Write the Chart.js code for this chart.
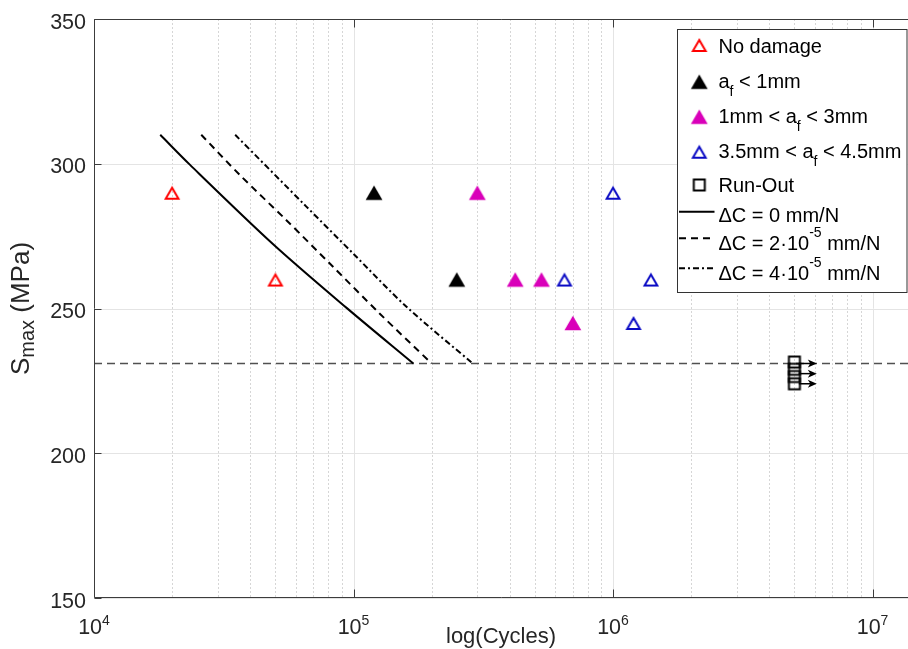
<!DOCTYPE html>
<html lang="en">
<head>
<meta charset="UTF-8">
<title>S-N fatigue data</title>
<script src="https://cdn.jsdelivr.net/npm/chart.js@4"></script>
<style>
  html, body { margin: 0; padding: 0; background: #fff; overflow: hidden; }
  .chart-box { position: relative; width: 908px; height: 649px; }
  .chart-box canvas { display: block; }
</style>
</head>
<body>
<div class="chart-box"><canvas id="snChart"></canvas></div>
<script>
// ---- values ----
const noDamageCycles = [2e4, 5e4];
const noDamageStress = [290, 260];
const smallCrackCycles = [1.2e5, 2.5e5];
const smallCrackStress = [290, 260];
const midCrackCycles = [3e5, 4.2e5, 5.3e5, 7e5];
const midCrackStress = [290, 260, 260, 245];
const largeCrackCycles = [1e6, 6.5e5, 1.4e6, 1.2e6];
const largeCrackStress = [290, 260, 260, 245];
const runOutCycles = [5e6, 5e6, 5e6, 5e6];
const runOutStress = [231.5, 229, 226.5, 224];
const runOutArrowStress = [231, 227.5, 224];
const runOutArrowCycles = [5.2e6, 6.1e6];   // arrow tail, arrow tip

const dc0Cycles = [1.8e4, 2.34e4, 4.89e4, 9.38e4, 1.7e5];
const dc0Stress = [310, 299.7, 272.3, 250.3, 231];
const dc2Cycles = [2.59e4, 3.64e4, 5.5e4, 8.32e4, 1.26e5, 2.0e5];
const dc2Stress = [310, 296.2, 280.6, 264.5, 248.3, 231];
const dc4Cycles = [3.5e4, 6.58e4, 9.94e4, 1.6e5, 2.88e5];
const dc4Stress = [310, 285.2, 269.1, 250.6, 231];

const enduranceStress = 231;

const xAxisMin = 1e4;
const xAxisMax = 1.37e7;
const yAxisMin = 150;
const yAxisMax = 350;
const xTickExponents = [4, 5, 6, 7];
const yTicks = [150, 200, 250, 300, 350];

const legendLabels = [
  [['No damage']],
  [['a'], ['f', 'sub'], [' < 1mm']],
  [['1mm < a'], ['f', 'sub'], [' < 3mm']],
  [['3.5mm < a'], ['f', 'sub'], [' < 4.5mm']],
  [['Run-Out']],
  [['\u0394C = 0 mm/N']],
  [['\u0394C = 2\u00b710'], ['-5', 'sup'], [' mm/N']],
  [['\u0394C = 4\u00b710'], ['-5', 'sup'], [' mm/N']]
];
const yTitle = [['S'], ['max', 'sub'], [' (MPa)']];
const xTitle = 'log(Cycles)';

// ---- helpers ----
const FONT = '"Liberation Sans", Arial, Helvetica, sans-serif';
const toPoints = (xs, ys) => xs.map((v, i) => ({ x: v, y: ys[i] }));

function triangleMarker(color, filled) {
  const c = document.createElement('canvas');
  c.width = 24; c.height = 24;
  const g = c.getContext('2d');
  const w = filled ? 16.8 : 12.8;
  const h = filled ? 14.5 : 11.2;
  const cy = filled ? 12 : 12.5;
  g.beginPath();
  g.moveTo(12, cy - h / 2);
  g.lineTo(12 + w / 2, cy + h / 2);
  g.lineTo(12 - w / 2, cy + h / 2);
  g.closePath();
  if (filled) {
    g.fillStyle = color;
    g.fill();
  } else {
    g.strokeStyle = color;
    g.lineWidth = 2;
    g.stroke();
  }
  return c;
}

function squareMarker(color) {
  const c = document.createElement('canvas');
  c.width = 16; c.height = 16;
  const g = c.getContext('2d');
  g.strokeStyle = color;
  g.lineWidth = 2;
  g.strokeRect(2.5, 2.5, 11, 11);
  return c;
}

// draws text made of normal / sub / sup pieces, returns its width
function drawRich(ctx, parts, x, y, o, measureOnly) {
  let cx = x;
  parts.forEach(([text, kind]) => {
    const fs = kind ? o.small : o.size;
    ctx.font = fs + 'px ' + FONT;
    const dy = kind === 'sub' ? o.subDy : kind === 'sup' ? o.supDy : 0;
    if (!measureOnly) ctx.fillText(text, cx, y + dy);
    cx += ctx.measureText(text).width;
  });
  return cx - x;
}

function line(ctx, x0, y0, x1, y1) {
  ctx.beginPath();
  ctx.moveTo(x0, y0);
  ctx.lineTo(x1, y1);
  ctx.stroke();
}

const RED = '#ff0000';
const MAGENTA = '#d900b9';
const BLUE = '#0a0ac4';
const AXIS = '#3c3c3c';

// ---- MATLAB style axes, grid, arrows and legend ----
const axesPlugin = {
  id: 'matlabAxes',
  beforeDatasetsDraw(chart) {
    const { ctx, chartArea: a, scales: { x, y } } = chart;
    ctx.save();
    ctx.lineWidth = 1;
    // minor x grid (dotted)
    ctx.strokeStyle = '#d6d6d6';
    ctx.setLineDash([2, 2]);
    xTickExponents.forEach(e => {
      for (let m = 2; m <= 9; m++) {
        const v = m * Math.pow(10, e);
        if (v >= x.max) break;
        const px = Math.round(x.getPixelForValue(v)) + 0.5;
        line(ctx, px, a.top, px, a.bottom);
      }
    });
    // major grid
    ctx.setLineDash([]);
    ctx.strokeStyle = '#e4e4e4';
    xTickExponents.forEach(e => {
      const px = Math.round(x.getPixelForValue(Math.pow(10, e))) + 0.5;
      if (px > a.left + 1) line(ctx, px, a.top, px, a.bottom);
    });
    yTicks.forEach(t => {
      const py = Math.round(y.getPixelForValue(t)) + 0.5;
      line(ctx, a.left, py, a.right, py);
    });
    ctx.restore();
  },
  afterDatasetsDraw(chart) {
    const { ctx, chartArea: a, scales: { x, y } } = chart;
    ctx.save();

    // run-out arrows
    ctx.strokeStyle = '#000';
    ctx.fillStyle = '#000';
    ctx.lineWidth = 1.5;
    runOutArrowStress.forEach(s => {
      const py = y.getPixelForValue(s);
      const x0 = x.getPixelForValue(runOutArrowCycles[0]);
      const x1 = x.getPixelForValue(runOutArrowCycles[1]);
      line(ctx, x0, py, x1 - 6, py);
      ctx.beginPath();
      ctx.moveTo(x1, py);
      ctx.lineTo(x1 - 9, py - 4);
      ctx.lineTo(x1 - 6.5, py);
      ctx.lineTo(x1 - 9, py + 4);
      ctx.closePath();
      ctx.fill();
    });

    // axis frame (right side is cut off in the figure)
    const L = Math.round(a.left) + 0.5;
    const T = Math.round(a.top) + 0.5;
    const B = Math.round(a.bottom) - 0.5;
    ctx.strokeStyle = AXIS;
    ctx.lineWidth = 1;
    line(ctx, L, T, a.right, T);
    line(ctx, L, B, a.right, B);
    line(ctx, L, T, L, B);

    // tick marks (inward)
    xTickExponents.forEach(e => {
      const px = Math.round(x.getPixelForValue(Math.pow(10, e))) + 0.5;
      line(ctx, px, B, px, B - 8);
      line(ctx, px, T, px, T + 8);
    });
    yTicks.forEach(t => {
      const py = Math.round(y.getPixelForValue(t)) + 0.5;
      line(ctx, L, py, L + 7, py);
    });

    // tick labels
    ctx.fillStyle = '#262626';
    ctx.textAlign = 'right';
    ctx.textBaseline = 'alphabetic';
    ctx.font = '21.5px ' + FONT;
    yTicks.forEach(t => {
      ctx.fillText(String(t), a.left - 8, y.getPixelForValue(t) + 9.7);
    });
    ctx.textAlign = 'left';
    const supOpts = { size: 21.5, small: 14, subDy: 0, supDy: -9 };
    xTickExponents.forEach(e => {
      const parts = [['10'], [String(e), 'sup']];
      const w = drawRich(ctx, parts, 0, 0, supOpts, true);
      const px = x.getPixelForValue(Math.pow(10, e));
      drawRich(ctx, parts, px - w / 2, a.bottom + 36, supOpts);
    });

    // axis titles
    ctx.font = '22px ' + FONT;
    ctx.textAlign = 'center';
    ctx.fillText(xTitle, (a.left + a.right) / 2, a.bottom + 45);
    ctx.textAlign = 'left';
    const yOpts = { size: 26, small: 20, subDy: 5, supDy: 0 };
    const yw = drawRich(ctx, yTitle, 0, 0, yOpts, true);
    ctx.save();
    ctx.translate(29, (a.top + a.bottom) / 2 + yw / 2);
    ctx.rotate(-Math.PI / 2);
    drawRich(ctx, yTitle, 0, 0, yOpts);
    ctx.restore();

    // legend
    const box = { left: 677, top: 29.5, right: 907.5, bottom: 292.5 };
    ctx.fillStyle = '#fff';
    ctx.fillRect(box.left, box.top, box.right - box.left, box.bottom - box.top);
    ctx.strokeStyle = '#333';
    ctx.lineWidth = 1;
    ctx.strokeRect(box.left + 0.5, box.top, box.right - box.left - 1, box.bottom - box.top);
    const rowMark = [45, 81.7, 116.7, 151.7, 185, 211.7, 238.3, 268.3];
    const rowBase = [52.7, 88.3, 123.3, 158.3, 192.3, 221.7, 250, 280];
    const legOpts = { size: 20, small: 14, subDy: 8, supDy: -13 };
    chart.data.datasets.slice(0, legendLabels.length).forEach((ds, i) => {
      if (ds.showLine) {
        ctx.strokeStyle = ds.borderColor;
        ctx.lineWidth = ds.borderWidth;
        ctx.setLineDash(ds.borderDash || []);
        line(ctx, 679, rowMark[i], 714.5, rowMark[i]);
        ctx.setLineDash([]);
      } else {
        const m = ds.pointStyle;
        ctx.drawImage(m, 699.3 - m.width / 2, rowMark[i] - m.height / 2);
      }
      ctx.fillStyle = '#000';
      drawRich(ctx, legendLabels[i], 718.5, rowBase[i], legOpts);
    });

    ctx.restore();
  }
};

const markerDataset = (xs, ys, marker) => ({
  data: toPoints(xs, ys),
  pointStyle: marker,
  pointRadius: 8,
  showLine: false
});
const curveDataset = (xs, ys, dash) => ({
  data: toPoints(xs, ys),
  showLine: true,
  borderColor: '#000',
  borderWidth: 2,
  borderDash: dash,
  pointRadius: 0,
  tension: 0.3
});

new Chart(document.getElementById('snChart'), {
  type: 'scatter',
  data: {
    datasets: [
      markerDataset(noDamageCycles, noDamageStress, triangleMarker(RED, false)),
      markerDataset(smallCrackCycles, smallCrackStress, triangleMarker('#000', true)),
      markerDataset(midCrackCycles, midCrackStress, triangleMarker(MAGENTA, true)),
      markerDataset(largeCrackCycles, largeCrackStress, triangleMarker(BLUE, false)),
      markerDataset(runOutCycles, runOutStress, squareMarker('#000')),
      curveDataset(dc0Cycles, dc0Stress, []),
      curveDataset(dc2Cycles, dc2Stress, [7, 5]),
      curveDataset(dc4Cycles, dc4Stress, [6, 3, 2, 3]),
      {
        data: [{ x: xAxisMin, y: enduranceStress }, { x: xAxisMax, y: enduranceStress }],
        showLine: true,
        borderColor: '#505050',
        borderWidth: 1.5,
        borderDash: [8, 5],
        pointRadius: 0
      }
    ]
  },
  options: {
    responsive: true,
    maintainAspectRatio: false,
    animation: false,
    devicePixelRatio: 1,
    events: [],
    layout: { autoPadding: false, padding: { left: 94, right: 0, top: 19, bottom: 51 } },
    scales: {
      x: { type: 'logarithmic', min: xAxisMin, max: xAxisMax, display: false },
      y: { type: 'linear', min: yAxisMin, max: yAxisMax, display: false }
    },
    plugins: { legend: { display: false }, tooltip: { enabled: false } }
  },
  plugins: [axesPlugin]
});
</script>
</body>
</html>
